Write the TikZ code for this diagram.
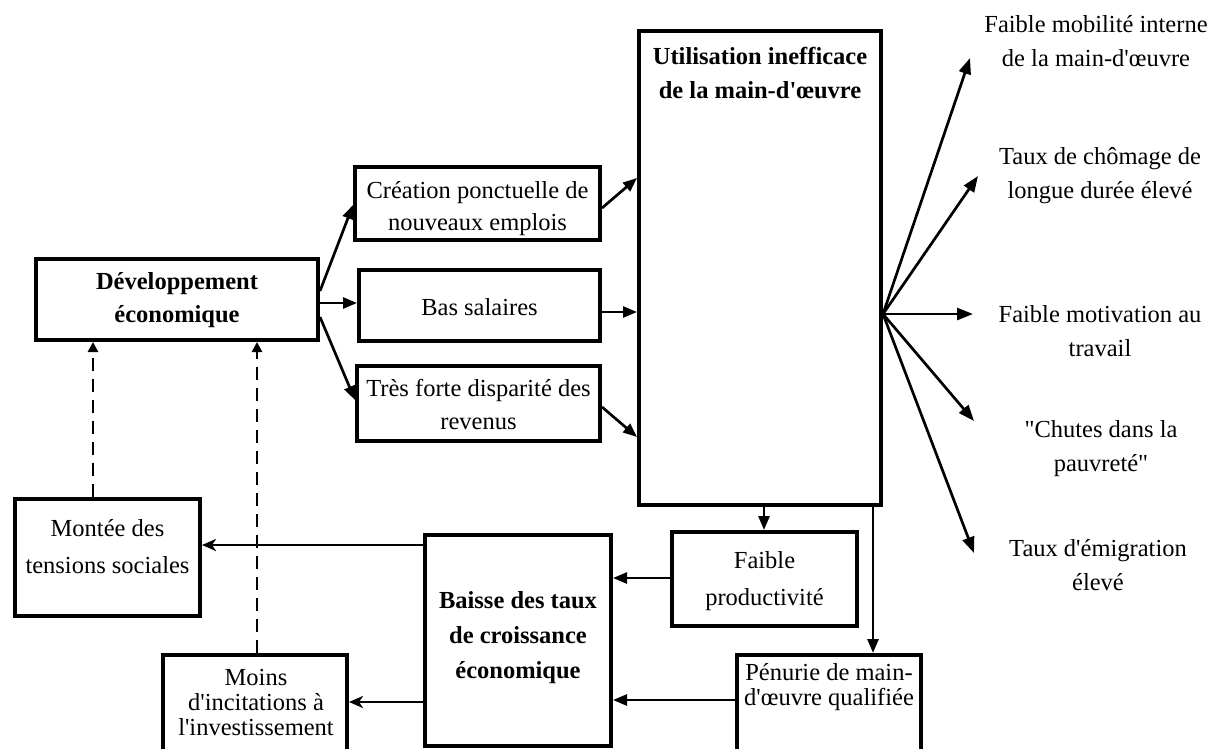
\documentclass[tikz,border=0pt]{standalone}
\usepackage{fontspec}
\setmainfont{Liberation Serif}[Ligatures=TeXOff]
\usetikzlibrary{arrows.meta,calc}
\begin{document}
\begin{tikzpicture}[x=1pt,y=-1pt,
  box/.style={draw, line width=4pt, inner sep=0pt},
  txt/.style={font=\fontsize{24.5pt}{34pt}\selectfont, align=center, inner sep=0pt},
  tight/.style={font=\fontsize{24.5pt}{25pt}\selectfont, align=center, inner sep=0pt},
  arr/.style={line width=2.7pt, -{Triangle[length=14pt,width=11pt]}},
  larr/.style={line width=2.7pt, -{Stealth[length=14pt,width=12pt,inset=4pt]}},
  fan/.style={line width=2.7pt, -{Triangle[length=16pt,width=12pt]}},
  darr/.style={line width=2.7pt, dash pattern=on 13pt off 8pt, -{Triangle[length=10pt,width=10pt]}}
]
\useasboundingbox (0,0) rectangle (1212,748);
\clip (0,0) rectangle (1212,748);

% boxes
\node[box, minimum width=282pt, minimum height=81pt] (dev) at (177,299.5) {};
\node[box, minimum width=245pt, minimum height=73pt] (crea) at (477.5,203.5) {};
\node[box, minimum width=241pt, minimum height=71pt] (bas) at (479.5,305.5) {};
\node[box, minimum width=243pt, minimum height=75pt] (tres) at (478.5,403) {};
\node[box, minimum width=242pt, minimum height=474pt] (util) at (760,268) {};
\node[box, minimum width=185pt, minimum height=94pt] (fp) at (764.5,579) {};
\node[box, minimum width=184pt, minimum height=200pt] (pen) at (829,755) {};
\node[box, minimum width=186pt, minimum height=211pt] (baisse) at (518,640.5) {};
\node[box, minimum width=185pt, minimum height=117pt] (montee) at (107.5,557.5) {};
\node[box, minimum width=184pt, minimum height=200pt] (moins) at (255,755) {};

% texts
\node[txt, font=\fontsize{24.5pt}{33pt}\selectfont\bfseries] (tdev) at (177,300) {Développement\\économique};
\node[txt, font=\fontsize{24.5pt}{32pt}\selectfont] (tcrea) at (477.5,209) {Création ponctuelle de\\nouveaux emplois};
\node[txt] (tbas) at (479.5,307) {Bas salaires};
\node[txt, font=\fontsize{24.5pt}{33pt}\selectfont] (ttres) at (478.5,404) {Très forte disparité des\\revenus};
\node[txt, font=\fontsize{24.5pt}{34pt}\selectfont\bfseries] (tutil) at (760,73) {Utilisation inefficace\\de la main-d'œuvre};
\node[txt, font=\fontsize{24.5pt}{37pt}\selectfont] (tfp) at (764.5,581.5) {Faible\\productivité};
\node[tight] (tpen) at (829,687.5) {Pénurie de main-\\d'œuvre qualifiée};
\node[txt, font=\fontsize{24.5pt}{35pt}\selectfont\bfseries] (tbaisse) at (518,638) {Baisse des taux\\de croissance\\économique};
\node[txt, font=\fontsize{24.5pt}{37pt}\selectfont] (tmontee) at (107.5,546.5) {Montée des\\tensions sociales};
\node[tight] (tmoins) at (256,702) {Moins\\d'incitations à\\l'investissement};

\node[txt] (r1) at (1096,41.5) {Faible mobilité interne\\de la main-d'œuvre};
\node[txt] (r2) at (1100,175.5) {Taux de chômage de\\longue durée élevé};
\node[txt] (r3) at (1100,331) {Faible motivation au\\travail};
\node[txt] (r4) at (1101,448.5) {"Chutes dans la\\pauvreté"};
\node[txt] (r5) at (1098,565) {Taux d'émigration\\élevé};

% fan tips
\coordinate (c1) at (970,58);
\coordinate (c2) at (978,176);
\coordinate (c3) at (973,314);
\coordinate (c4) at (974,421);
\coordinate (c5) at (974,553);
\coordinate (fo) at ([yshift=-46pt]util.east);

% connectors left
\draw[arr] ([yshift=8.5pt]dev.east) -- ([yshift=-1.5pt]crea.west);
\draw[arr] ([yshift=-3.5pt]dev.east) -- ([yshift=2.5pt]bas.west);
\draw[arr] ([yshift=-17.5pt]dev.east) -- ([yshift=3pt]tres.west);

\draw[arr] ([yshift=-4.5pt]crea.east) -- ([yshift=90pt]util.west);
\draw[arr] ([yshift=-6.5pt]bas.east) -- ([yshift=-44pt]util.west);
\draw[arr] ([yshift=-4pt]tres.east) -- ([yshift=-169pt]util.west);

% fan
\draw[fan] (fo) -- (c1);
\draw[fan] (fo) -- (c2);
\draw[fan] (fo) -- (c3);
\draw[fan] (fo) -- (c4);
\draw[fan] (fo) -- (c5);

% down
\draw[arr] ([xshift=4pt]util.south) -- ([xshift=4pt]util.south |- fp.north);
\draw[arr] ([xshift=113pt]util.south) -- ([xshift=113pt]util.south |- pen.north);

% to baisse
\draw[arr] ([yshift=1pt]fp.west) -- ([yshift=1pt]fp.west -| baisse.east);
\draw[arr] ([yshift=55pt]pen.west) -- ([yshift=55pt]pen.west -| baisse.east);

% from baisse
\draw[larr] ([yshift=95.5pt]baisse.west) -- ([yshift=95.5pt]baisse.west -| montee.east);
\draw[larr] ([yshift=-61.5pt]baisse.west) -- ([yshift=-61.5pt]baisse.west -| moins.east);

% dashed feedback
\draw[darr] ([xshift=-14.5pt]montee.north) -- ([xshift=-14.5pt]montee.north |- dev.south);
\draw[darr] ([xshift=2pt]moins.north) -- ([xshift=2pt]moins.north |- dev.south);
\end{tikzpicture}
\end{document}
